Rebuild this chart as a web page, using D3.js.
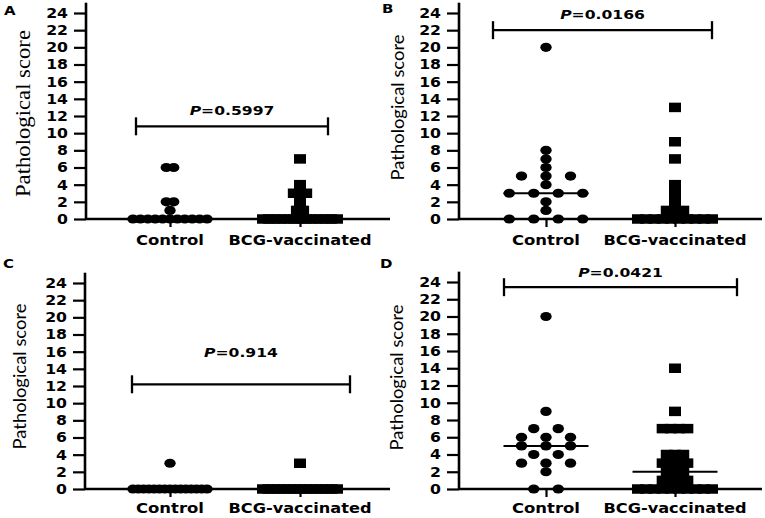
<!DOCTYPE html>
<html><head><meta charset="utf-8">
<script src="https://cdn.jsdelivr.net/npm/d3@7"></script>
<style>body{margin:0;background:#fff}svg{display:block}</style>
</head><body>
<script>
// ---------- data ----------
const categories = ["Control", "BCG-vaccinated"];
const yTickValues = [0, 2, 4, 6, 8, 10, 12, 14, 16, 18, 20, 22, 24];
const panelIds = ["A", "B", "C", "D"];
const pValues = ["0.5997", "0.0166", "0.914", "0.0421"];
const yTitle = "Pathological score";

const controlA = [0,0,0,0,0,0,0,0,0,0,0,1,2,2,6,6];
const bcgA     = [0,0,0,0,0,0,0,0,0,0,0,0,0,1,1,2,3,3,3,4,7];
const controlB = [0,0,0,0,1,2,3,3,3,3,4,5,5,5,6,7,8,20];
const bcgB     = [0,0,0,0,0,0,0,0,0,0,1,1,1,2,3,4,7,9,13];
const controlC = [0,0,0,0,0,0,0,0,0,0,0,0,0,0,0,3];
const bcgC     = [0,0,0,0,0,0,0,0,0,0,0,0,0,0,0,3];
const controlD = [0,0,2,3,3,3,4,4,5,5,5,6,6,6,7,7,9,20];
const bcgD     = [0,0,0,0,0,0,0,0,0,0,1,1,1,1,2,2,2,3,3,3,3,4,4,4,7,7,7,7,9,14];
const bracketValues = [10.8, 22.0, 12.2, 23.4];

const groups = [[controlA, bcgA], [controlB, bcgB], [controlC, bcgC], [controlD, bcgD]];

// ---------- layout ----------
const layout = [
  {ox:86,  y0:219, y24:13,  cx:[170,300], xEnd:390, lab:[4,15],   tx:29.5, ty:113.5, serif:true,  catY:245, pOff:11},
  {ox:459, y0:219, y24:13,  cx:[546,675], xEnd:762, lab:[382,13], tx:404,  ty:107.5, serif:false, catY:245, pOff:11},
  {ox:85,  y0:489, y24:283, cx:[170,300], xEnd:390, lab:[3,268],  tx:25.5, ty:376.5, serif:false, catY:513, pOff:27},
  {ox:459, y0:489, y24:282, cx:[546,675], xEnd:762, lab:[380,268],tx:402.5,ty:377.5, serif:false, catY:513, pOff:10}
];
const brackets = [[136,328],[493,712],[132,350],[504,737]];

const svg = d3.select("body").append("svg").attr("width", 765).attr("height", 518)
  .style("background", "#fff");

const SANS = "'DejaVu Sans', sans-serif";
const SX = 1.12;

function rowPositions(values) {
  const counts = d3.rollup(values, v => v.length, d => d);
  const maxN = d3.max(counts.values());
  const s = maxN > 1 ? Math.min(24.5, 74 / (maxN - 1)) : 0;
  const pts = [];
  for (const [v, n] of counts) {
    for (let i = 0; i < n; i++) pts.push({v, dx: (i - (n - 1) / 2) * s});
  }
  return pts;
}

panelIds.forEach((id, k) => {
  const L = layout[k];
  const g = svg.append("g");
  const y = d3.scaleLinear().domain([0, 24]).range([L.y0, L.y24]);
  const x = d3.scalePoint().domain(categories).range(L.cx);

  // y axis
  const yAx = g.append("g").attr("transform", `translate(${L.ox},0)`)
    .call(d3.axisLeft(y).tickValues(yTickValues).tickSize(12).tickPadding(6).tickFormat(d3.format("d")));
  yAx.select(".domain").remove();
  yAx.selectAll(".tick line").attr("stroke", "#000").attr("stroke-width", 2.2);
  yAx.selectAll(".tick text")
    .attr("x", -18 / SX).attr("transform", `scale(${SX},1)`)
    .attr("fill", "#000").style("font-family", SANS).style("font-weight", "bold").style("font-size", "14px");
  g.append("line").attr("x1", L.ox).attr("x2", L.ox).attr("y1", y(25.2)).attr("y2", L.y0 + 1)
    .attr("stroke", "#000").attr("stroke-width", 2.6);

  // x axis
  const xAx = g.append("g").attr("transform", `translate(0,${L.y0})`)
    .call(d3.axisBottom(x).tickSize(8).tickFormat(""));
  xAx.select(".domain").remove();
  xAx.selectAll(".tick line").attr("stroke", "#000").attr("stroke-width", 2.2);
  g.append("line").attr("x1", L.ox).attr("x2", L.xEnd).attr("y1", L.y0).attr("y2", L.y0)
    .attr("stroke", "#000").attr("stroke-width", 2.6);

  // category labels
  const catW = [68, 143];
  categories.forEach((c, i) => {
    g.append("text").attr("x", x(c)).attr("y", L.catY).attr("text-anchor", "middle")
      .attr("textLength", catW[i]).attr("lengthAdjust", "spacingAndGlyphs")
      .style("font-family", SANS).style("font-weight", "bold").style("font-size", "14.5px")
      .text(c);
  });

  // y title
  g.append("text").attr("transform", `translate(${L.tx},${L.ty}) rotate(-90)`)
    .attr("text-anchor", "middle")
    .attr("textLength", L.serif ? 167 : 146).attr("lengthAdjust", "spacingAndGlyphs")
    .style("font-family", L.serif ? "'Liberation Serif', 'Times New Roman', serif" : "Lato, sans-serif")
    .style("font-size", L.serif ? "21px" : "17px")
    .text(yTitle);

  // panel letter
  g.append("text").attr("transform", `translate(${L.lab[0]},${L.lab[1]}) scale(1.2,1)`)
    .style("font-family", SANS).style("font-weight", "bold").style("font-size", "12.5px").text(id);

  // points
  const [ctrl, bcg] = groups[k];
  g.append("g").selectAll("ellipse").data(rowPositions(ctrl)).join("ellipse")
    .attr("cx", d => x(categories[0]) + d.dx).attr("cy", d => y(d.v))
    .attr("rx", 5.7).attr("ry", 4.6).attr("fill", "#000");
  g.append("g").selectAll("rect").data(rowPositions(bcg)).join("rect")
    .attr("x", d => x(categories[1]) + d.dx - 6).attr("y", d => y(d.v) - 4.75)
    .attr("width", 12).attr("height", 9.5).attr("fill", "#000");

  // medians
  [ctrl, bcg].forEach((arr, i) => {
    const m = d3.median(arr);
    g.append("line").attr("x1", x(categories[i]) - 42.5).attr("x2", x(categories[i]) + 42.5)
      .attr("y1", y(m)).attr("y2", y(m)).attr("stroke", "#000").attr("stroke-width", 2);
  });

  // significance bracket
  const by = y(bracketValues[k]);
  const [bx1, bx2] = brackets[k];
  g.append("line").attr("x1", bx1).attr("x2", bx2).attr("y1", by).attr("y2", by)
    .attr("stroke", "#000").attr("stroke-width", 2.3);
  [bx1, bx2].forEach(bx => g.append("line").attr("x1", bx).attr("x2", bx)
    .attr("y1", by - 9).attr("y2", by + 9).attr("stroke", "#000").attr("stroke-width", 2.3));
  const t = g.append("text")
    .attr("transform", `translate(${(bx1 + bx2) / 2},${by - L.pOff}) scale(1.2,1)`)
    .attr("text-anchor", "middle")
    .style("font-family", SANS).style("font-weight", "bold").style("font-size", "13px");
  t.append("tspan").style("font-style", "italic").text("P");
  t.append("tspan").text("=" + pValues[k]);
});
</script>
</body></html>
